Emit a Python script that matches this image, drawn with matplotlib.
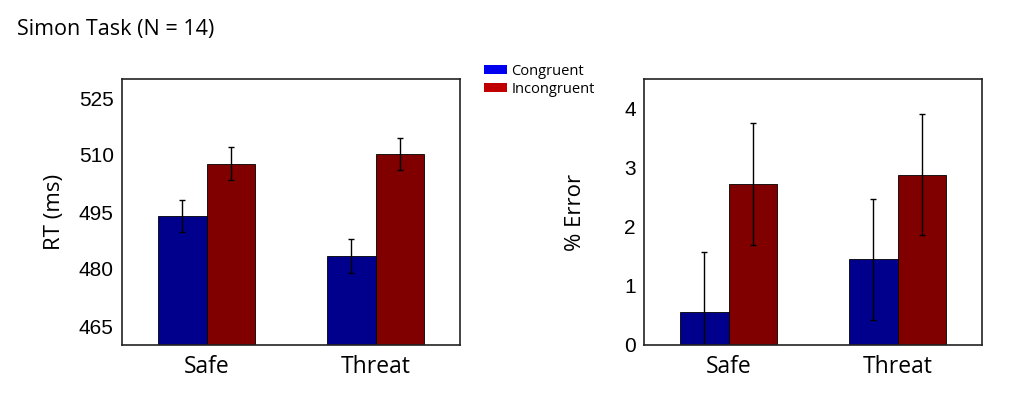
import matplotlib.pyplot as plt
from matplotlib.patches import Patch

# Data
conditions = ['Safe', 'Threat']
rt_congruent = [494.0, 483.4]
rt_incongruent = [507.7, 510.3]
rt_cong_err = [4.2, 4.4]
rt_incong_err = [4.3, 4.3]
rt_ticks = [465, 480, 495, 510, 525]

err_congruent = [0.55, 1.45]
err_incongruent = [2.73, 2.88]
err_cong_err = [1.03, 1.02]
err_incong_err = [1.03, 1.02]
err_ticks = [0, 1, 2, 3, 4]

bar_blue = '#00008c'
bar_red = '#800000'
calibri_like = 'Open Sans'
arial_like = 'Liberation Sans'

fig = plt.figure(figsize=(10.24, 4), dpi=100)

x = [1, 2]
w = 0.285


def draw_panel(ax, cong, incong, cong_err, incong_err, ticks, ylim, ylabel, label_x):
    ax.bar([i - w / 2 for i in x], cong, width=w, color=bar_blue,
           edgecolor='black', linewidth=0.6)
    ax.bar([i + w / 2 for i in x], incong, width=w, color=bar_red,
           edgecolor='black', linewidth=0.6)
    ax.errorbar([i - w / 2 for i in x], cong, yerr=cong_err, fmt='none',
                ecolor='black', elinewidth=1, capsize=2, capthick=1)
    ax.errorbar([i + w / 2 for i in x], incong, yerr=incong_err, fmt='none',
                ecolor='black', elinewidth=1, capsize=2, capthick=1)
    ax.set_xlim(0.5, 2.5)
    ax.set_ylim(*ylim)
    ax.set_yticks(ticks)
    ax.set_yticklabels([str(t) for t in ticks], family=arial_like, fontsize=15)
    ax.set_xticks(x)
    ax.set_xticklabels(conditions, family=calibri_like, fontsize=16.5)
    ax.tick_params(length=0, pad=6)
    ax.tick_params(axis='x', pad=7)
    for s in ax.spines.values():
        s.set_linewidth(1.2)
        s.set_color('#222222')
    ax.set_ylabel(ylabel, family=calibri_like, fontsize=16)
    ax.yaxis.set_label_coords(label_x, 0.5)


ax1 = fig.add_axes([122 / 1024, 55 / 400, 338 / 1024, 266 / 400])
draw_panel(ax1, rt_congruent, rt_incongruent, rt_cong_err, rt_incong_err,
           rt_ticks, (460, 530), 'RT (ms)', -0.168)

ax2 = fig.add_axes([644 / 1024, 55 / 400, 338 / 1024, 266 / 400])
draw_panel(ax2, err_congruent, err_incongruent, err_cong_err, err_incong_err,
           err_ticks, (0, 4.5), '% Error', -0.172)

fig.text(17 / 1024, 1 - 29 / 400, 'Simon Task (N = 14)', family=calibri_like,
         fontsize=15.5, va='center', ha='left')

handles = [Patch(facecolor='#0000f0', label='Congruent'),
           Patch(facecolor='#c00000', label='Incongruent')]
fig.legend(handles=handles, loc='upper left', bbox_to_anchor=(478 / 1024, 1 - 58 / 400),
           frameon=False, prop={'family': calibri_like, 'size': 10.5},
           handlelength=1.6, handleheight=0.6, handletextpad=0.3, labelspacing=0.2,
           borderaxespad=0)

fig.savefig('out.png', dpi=100)
